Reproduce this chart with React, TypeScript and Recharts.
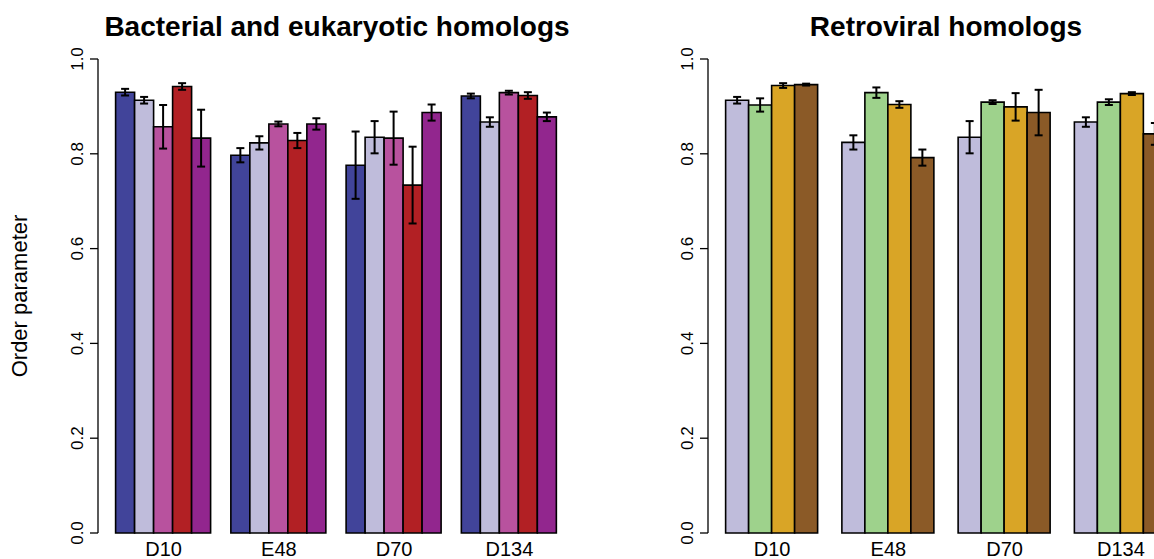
import React from "react";
import { BarChart, Bar, XAxis, YAxis, ErrorBar } from "recharts";

const groups = ["D10", "E48", "D70", "D134"];
const yTicks = [0, 0.2, 0.4, 0.6, 0.8, 1.0];

// left panel: bacterial and eukaryotic homologs (5 bars per group)
const bacColors = ["#41449a", "#bfbcdb", "#b8529e", "#b22024", "#92268e"];
const bac1 = [0.930, 0.797, 0.776, 0.922];
const bac1Err = [0.007, 0.015, 0.071, 0.005];
const bac2 = [0.913, 0.823, 0.835, 0.867];
const bac2Err = [0.007, 0.014, 0.034, 0.010];
const bac3 = [0.857, 0.863, 0.833, 0.929];
const bac3Err = [0.046, 0.005, 0.056, 0.004];
const bac4 = [0.942, 0.828, 0.734, 0.923];
const bac4Err = [0.007, 0.016, 0.081, 0.007];
const bac5 = [0.833, 0.863, 0.887, 0.878];
const bac5Err = [0.060, 0.012, 0.017, 0.009];

// right panel: retroviral homologs (4 bars per group)
const retroColors = ["#bfbcdb", "#9ed28c", "#d9a526", "#8b5a27"];
const retro1 = [0.913, 0.824, 0.835, 0.867];
const retro1Err = [0.007, 0.015, 0.034, 0.010];
const retro2 = [0.903, 0.929, 0.909, 0.909];
const retro2Err = [0.014, 0.011, 0.004, 0.006];
const retro3 = [0.944, 0.904, 0.899, 0.927];
const retro3Err = [0.005, 0.007, 0.029, 0.003];
const retro4 = [0.946, 0.792, 0.887, 0.842];
const retro4Err = [0.002, 0.017, 0.048, 0.023];

const bacSeries = [bac1, bac2, bac3, bac4, bac5];
const bacErrs = [bac1Err, bac2Err, bac3Err, bac4Err, bac5Err];
const retroSeries = [retro1, retro2, retro3, retro4];
const retroErrs = [retro1Err, retro2Err, retro3Err, retro4Err];

function buildRows(series: number[][], errs: number[][]) {
  return groups.map((g, i) => {
    const row: any = { name: g };
    series.forEach((s, k) => {
      row["v" + k] = s[i];
      row["e" + k] = errs[k][i];
    });
    return row;
  });
}

const font = "'Liberation Sans', Arial, Helvetica, sans-serif";

function YTick({ x, y, payload }: any) {
  return (
    <text
      x={x - 5}
      y={y}
      transform={`rotate(-90, ${x - 5}, ${y})`}
      textAnchor="middle"
      fontSize={17}
      fontFamily={font}
      fill="#000"
    >
      {Number(payload.value).toFixed(1)}
    </text>
  );
}

function XTick({ x, y, payload }: any) {
  return (
    <text x={x} y={y + 15} textAnchor="middle" fontSize={20} fontFamily={font} fill="#000">
      {payload.value}
    </text>
  );
}

function Panel({ series, errs, colors, pad, gap }: any) {
  const rows = buildRows(series, errs);
  return (
    <BarChart
      width={600}
      height={559}
      data={rows}
      margin={{ top: 59, right: 25, bottom: 0, left: 0 }}
      barGap={0}
      barCategoryGap={gap}
    >
      <XAxis
        dataKey="name"
        axisLine={false}
        tickLine={false}
        height={26}
        padding={{ left: pad, right: pad }}
        tick={<XTick />}
        interval={0}
      />
      <YAxis
        width={98}
        domain={[0, 1]}
        ticks={yTicks}
        tickSize={8}
        axisLine={{ stroke: "#000", strokeWidth: 1.3 }}
        tickLine={{ stroke: "#000", strokeWidth: 1.3 }}
        tick={<YTick />}
        interval={0}
      />
      {colors.map((c: string, k: number) => (
        <Bar
          key={k}
          dataKey={"v" + k}
          fill={c}
          stroke="#000"
          strokeWidth={1.6}
          isAnimationActive={false}
        >
          <ErrorBar dataKey={"e" + k} width={4} stroke="#000" strokeWidth={2} />
        </Bar>
      ))}
    </BarChart>
  );
}

export default function App() {
  return (
    <div
      style={{
        position: "fixed",
        left: 0,
        top: 0,
        width: 1154,
        height: 559,
        overflow: "hidden",
        background: "#fff",
      }}
    >
      <div style={{ position: "absolute", left: 0, top: 0 }}>
        <Panel series={bacSeries} errs={bacErrs} colors={bacColors} pad={8} gap="8.333%" />
      </div>
      <div style={{ position: "absolute", left: 610, top: 0 }}>
        <Panel series={retroSeries} errs={retroErrs} colors={retroColors} pad={6} gap="10%" />
      </div>
      <svg
        width={1154}
        height={559}
        style={{ position: "absolute", left: 0, top: 0, pointerEvents: "none" }}
      >
        <text x={337} y={36} textAnchor="middle" fontSize={28} fontWeight="bold" fontFamily={font}>
          Bacterial and eukaryotic homologs
        </text>
        <text x={946} y={36} textAnchor="middle" fontSize={28} fontWeight="bold" fontFamily={font}>
          Retroviral homologs
        </text>
        <text
          x={27}
          y={296}
          transform="rotate(-90, 27, 296)"
          textAnchor="middle"
          fontSize={22}
          fontFamily={font}
        >
          Order parameter
        </text>
      </svg>
    </div>
  );
}
